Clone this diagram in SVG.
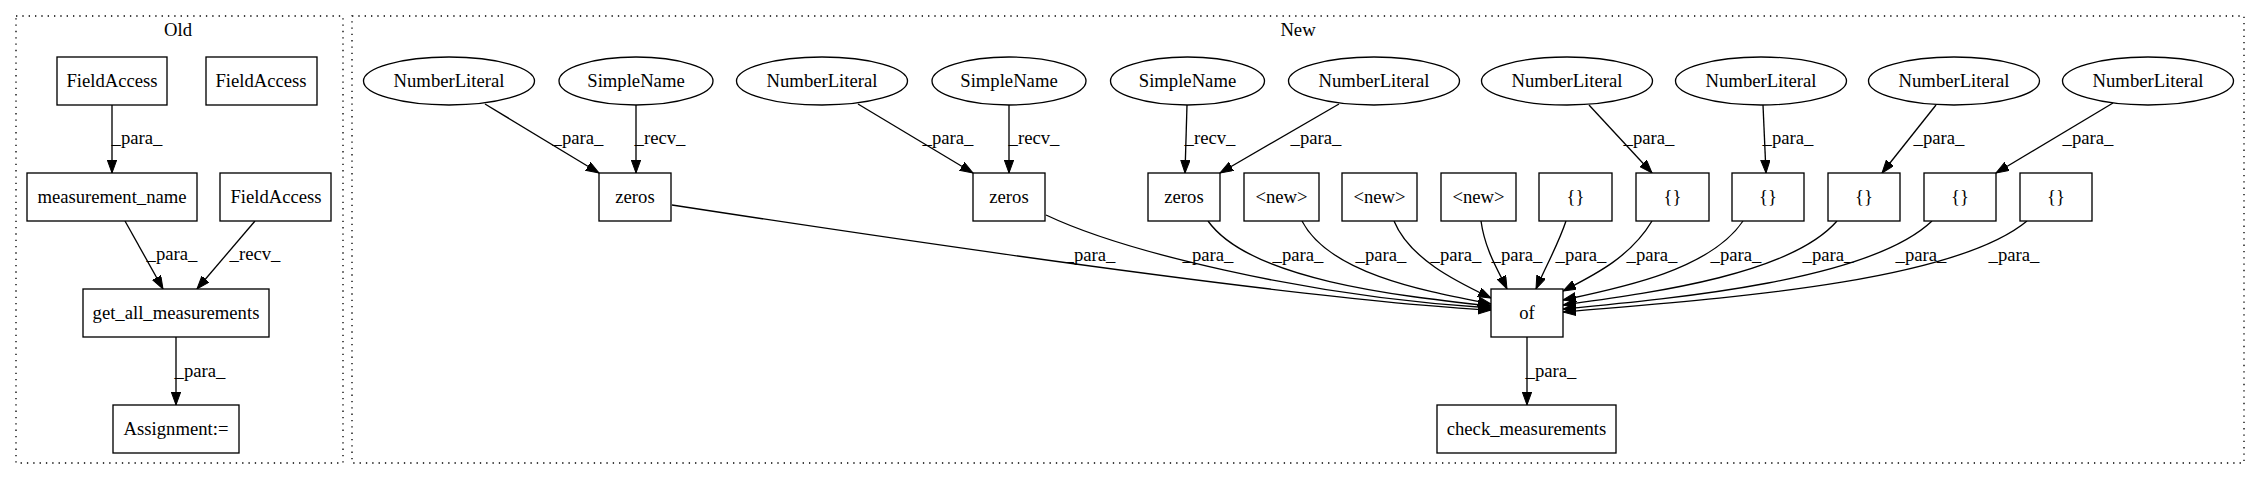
<svg xmlns="http://www.w3.org/2000/svg" width="2260" height="480" viewBox="0 0 2260 480" font-family="Liberation Serif, serif" font-size="18.67">
<style>
text{fill:#000;text-anchor:middle}
.n rect,.n ellipse{fill:#fff;stroke:#000;stroke-width:1.33}
.cl{fill:none;stroke:#000;stroke-width:1.33;stroke-dasharray:1.33,5}
.e path{fill:none;stroke:#000;stroke-width:1.33}
</style>
<defs>
<marker id="ah" markerUnits="userSpaceOnUse" markerWidth="14" markerHeight="10" refX="13" refY="4.7" orient="auto">
<path d="M0,0 L13,4.7 L0,9.4 z" fill="#000" stroke="#000" stroke-width="1"/>
</marker>
</defs>
<rect width="2260" height="480" fill="#fff"/>
<g id="clusters">
<rect class="cl" x="16" y="16" width="327" height="447"/>
<text x="178" y="36">Old</text>
<rect class="cl" x="352" y="16" width="1892" height="447"/>
<text x="1298" y="36">New</text>
</g>
<g id="connectors" class="e">
<path d="M112,105 L112,173" marker-end="url(#ah)"/>
<path d="M125,221 L163,289" marker-end="url(#ah)"/>
<path d="M255,221 L197,289" marker-end="url(#ah)"/>
<path d="M176,337 L176,405" marker-end="url(#ah)"/>
<path d="M485,104 L599,173" marker-end="url(#ah)"/>
<path d="M636,105 L636,173" marker-end="url(#ah)"/>
<path d="M858,104 L973,173" marker-end="url(#ah)"/>
<path d="M1009,105 L1009,173" marker-end="url(#ah)"/>
<path d="M1187,105 L1185,173" marker-end="url(#ah)"/>
<path d="M1339,104 L1220,173" marker-end="url(#ah)"/>
<path d="M1589,105 L1652,173" marker-end="url(#ah)"/>
<path d="M1763,105 L1766,173" marker-end="url(#ah)"/>
<path d="M1936,105 L1882,173" marker-end="url(#ah)"/>
<path d="M2113,103 L1996,173" marker-end="url(#ah)"/>
<path d="M672,205 C900,240 1300,300 1491,310" marker-end="url(#ah)"/>
<path d="M1046,215 C1120,250 1300,296 1491,308" marker-end="url(#ah)"/>
<path d="M1208,221 C1250,280 1400,296 1491,306" marker-end="url(#ah)"/>
<path d="M1302,221 C1330,275 1430,292 1491,304" marker-end="url(#ah)"/>
<path d="M1394,221 C1410,260 1460,283 1491,298" marker-end="url(#ah)"/>
<path d="M1481,221 C1485,250 1498,270 1507,289" marker-end="url(#ah)"/>
<path d="M1566,221 C1558,245 1545,268 1536,289" marker-end="url(#ah)"/>
<path d="M1652,221 C1630,258 1592,276 1563,291" marker-end="url(#ah)"/>
<path d="M1743,221 C1710,270 1620,288 1563,300" marker-end="url(#ah)"/>
<path d="M1837,221 C1790,275 1650,293 1563,305" marker-end="url(#ah)"/>
<path d="M1932,221 C1870,280 1680,298 1563,309" marker-end="url(#ah)"/>
<path d="M2027,221 C1950,285 1700,300 1563,312" marker-end="url(#ah)"/>
<path d="M1527,337 L1527,405" marker-end="url(#ah)"/>
<g id="edge-labels">
<text x="137" y="144">_para_</text>
<text x="172" y="260">_para_</text>
<text x="255" y="260">_recv_</text>
<text x="200" y="377">_para_</text>
<text x="578" y="144">_para_</text>
<text x="660" y="144">_recv_</text>
<text x="948" y="144">_para_</text>
<text x="1034" y="144">_recv_</text>
<text x="1210" y="144">_recv_</text>
<text x="1316" y="144">_para_</text>
<text x="1649" y="144">_para_</text>
<text x="1788" y="144">_para_</text>
<text x="1939" y="144">_para_</text>
<text x="2088" y="144">_para_</text>
<text x="1090" y="261">_para_</text>
<text x="1208" y="261">_para_</text>
<text x="1298" y="261">_para_</text>
<text x="1381" y="261">_para_</text>
<text x="1456" y="261">_para_</text>
<text x="1517" y="261">_para_</text>
<text x="1581" y="261">_para_</text>
<text x="1652" y="261">_para_</text>
<text x="1736" y="261">_para_</text>
<text x="1828" y="261">_para_</text>
<text x="1921" y="261">_para_</text>
<text x="2014" y="261">_para_</text>
<text x="1551" y="377">_para_</text>
</g>
</g>
<g id="old-fa1" class="n"><rect x="57" y="57" width="110" height="48"/><text x="112" y="86.5">FieldAccess</text></g>
<g id="old-fa2" class="n"><rect x="206" y="57" width="111" height="48"/><text x="261" y="86.5">FieldAccess</text></g>
<g id="old-mname" class="n"><rect x="27" y="173" width="170" height="48"/><text x="112" y="202.5">measurement_name</text></g>
<g id="old-fa3" class="n"><rect x="220" y="173" width="111" height="48"/><text x="276" y="202.5">FieldAccess</text></g>
<g id="old-getall" class="n"><rect x="83" y="289" width="186" height="48"/><text x="176" y="318.5">get_all_measurements</text></g>
<g id="old-assign" class="n"><rect x="113" y="405" width="126" height="48"/><text x="176" y="434.5">Assignment:=</text></g>
<g id="nl1" class="n"><ellipse cx="449" cy="81" rx="85.5" ry="24"/><text x="449" y="86.5">NumberLiteral</text></g>
<g id="sn1" class="n"><ellipse cx="636" cy="81" rx="77" ry="24"/><text x="636" y="86.5">SimpleName</text></g>
<g id="nl2" class="n"><ellipse cx="822" cy="81" rx="85.5" ry="24"/><text x="822" y="86.5">NumberLiteral</text></g>
<g id="sn2" class="n"><ellipse cx="1009" cy="81" rx="77" ry="24"/><text x="1009" y="86.5">SimpleName</text></g>
<g id="sn3" class="n"><ellipse cx="1187.5" cy="81" rx="77" ry="24"/><text x="1187.5" y="86.5">SimpleName</text></g>
<g id="nl3" class="n"><ellipse cx="1374" cy="81" rx="85.5" ry="24"/><text x="1374" y="86.5">NumberLiteral</text></g>
<g id="nl4" class="n"><ellipse cx="1567" cy="81" rx="85.5" ry="24"/><text x="1567" y="86.5">NumberLiteral</text></g>
<g id="nl5" class="n"><ellipse cx="1761" cy="81" rx="85.5" ry="24"/><text x="1761" y="86.5">NumberLiteral</text></g>
<g id="nl6" class="n"><ellipse cx="1954" cy="81" rx="85.5" ry="24"/><text x="1954" y="86.5">NumberLiteral</text></g>
<g id="nl7" class="n"><ellipse cx="2148" cy="81" rx="85.5" ry="24"/><text x="2148" y="86.5">NumberLiteral</text></g>
<g id="zeros1" class="n"><rect x="599" y="173" width="72" height="48"/><text x="635" y="202.5">zeros</text></g>
<g id="zeros2" class="n"><rect x="973" y="173" width="72" height="48"/><text x="1009" y="202.5">zeros</text></g>
<g id="zeros3" class="n"><rect x="1148" y="173" width="72" height="48"/><text x="1184" y="202.5">zeros</text></g>
<g id="new1" class="n"><rect x="1244" y="173" width="75" height="48"/><text x="1281.5" y="202.5">&lt;new&gt;</text></g>
<g id="new2" class="n"><rect x="1342" y="173" width="75" height="48"/><text x="1379.5" y="202.5">&lt;new&gt;</text></g>
<g id="new3" class="n"><rect x="1441" y="173" width="75" height="48"/><text x="1478.5" y="202.5">&lt;new&gt;</text></g>
<g id="arr1" class="n"><rect x="1539" y="173" width="73" height="48"/><text x="1575.5" y="202.5">{}</text></g>
<g id="arr2" class="n"><rect x="1636" y="173" width="73" height="48"/><text x="1672.5" y="202.5">{}</text></g>
<g id="arr3" class="n"><rect x="1732" y="173" width="72" height="48"/><text x="1768" y="202.5">{}</text></g>
<g id="arr4" class="n"><rect x="1828" y="173" width="72" height="48"/><text x="1864" y="202.5">{}</text></g>
<g id="arr5" class="n"><rect x="1924" y="173" width="72" height="48"/><text x="1960" y="202.5">{}</text></g>
<g id="arr6" class="n"><rect x="2020" y="173" width="72" height="48"/><text x="2056" y="202.5">{}</text></g>
<g id="of" class="n"><rect x="1491" y="289" width="72" height="48"/><text x="1527" y="318.5">of</text></g>
<g id="check" class="n"><rect x="1437" y="405" width="179" height="48"/><text x="1526.5" y="434.5">check_measurements</text></g>
</svg>
